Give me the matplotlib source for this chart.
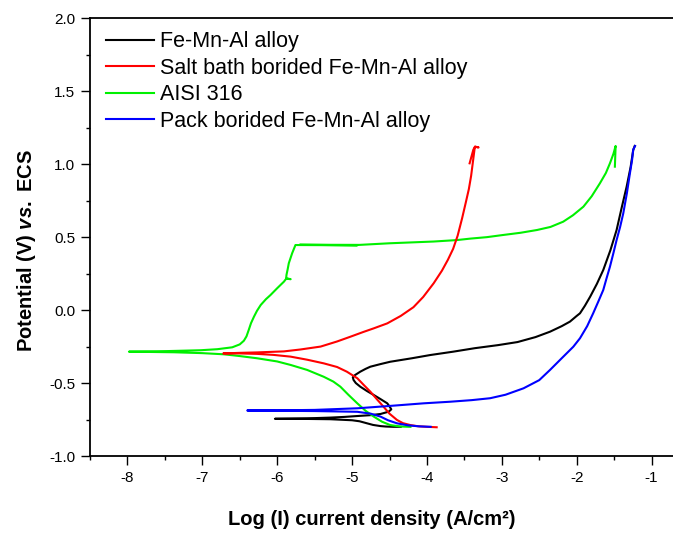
import matplotlib
matplotlib.use('Agg')
import matplotlib.pyplot as plt
from matplotlib.ticker import MultipleLocator, FormatStrFormatter

plt.rcParams['font.family'] = ['Liberation Sans', 'DejaVu Sans']
plt.rcParams['axes.unicode_minus'] = False
plt.rcParams['mathtext.fontset'] = 'custom'
plt.rcParams['mathtext.it'] = 'Liberation Sans:italic:bold'
plt.rcParams['mathtext.rm'] = 'Liberation Sans:bold'

# data: log current density (x) vs potential (y)
black_x = [-4.35, -4.45, -4.55, -4.62, -4.72, -4.80, -4.9, -5.0, -5.29, -5.6, -6.03,
           -5.6, -5.3, -5.1, -4.93, -4.75, -4.62, -4.51, -4.476, -4.5, -4.53, -4.62, -4.71, -4.8,
           -4.89, -4.95, -4.98, -4.99, -4.96, -4.89, -4.82, -4.756, -4.62, -4.49, -4.2, -3.956,
           -3.65, -3.36, -3.05, -2.79, -2.55, -2.356, -2.2, -2.09, -2.0, -1.956, -1.89, -1.82,
           -1.73, -1.645, -1.55, -1.467, -1.40, -1.333, -1.28, -1.245, -1.225]
black_y = [-0.80, -0.80, -0.798, -0.795, -0.787, -0.776, -0.762, -0.755, -0.748, -0.746, -0.745,
           -0.742, -0.737, -0.732, -0.726, -0.72, -0.712, -0.696, -0.68, -0.66, -0.639, -0.61,
           -0.582, -0.555, -0.525, -0.50, -0.479, -0.46, -0.445, -0.422, -0.403, -0.388, -0.37,
           -0.354, -0.33, -0.308, -0.285, -0.261, -0.24, -0.219, -0.185, -0.148, -0.11, -0.079,
           -0.04, -0.022, 0.03, 0.092, 0.18, 0.275, 0.41, 0.549, 0.70, 0.846, 0.98, 1.097, 1.125]

red_x = [-3.87, -4.0, -4.12, -4.22, -4.32, -4.4, -4.5, -4.58, -4.67, -4.756, -4.85, -4.93, -5.07,
         -5.2, -5.378, -5.6, -5.82, -6.05, -6.27, -6.5, -6.72,
         -6.5, -6.27, -5.91, -5.69, -5.42, -5.2, -5.02, -4.85, -4.71, -4.53, -4.35, -4.18, -4.05,
         -3.91, -3.80, -3.72, -3.65, -3.59, -3.53, -3.48, -3.44, -3.41, -3.385, -3.36, -3.31,
         -3.356, -3.38, -3.43]
red_y = [-0.803, -0.80, -0.796, -0.788, -0.775, -0.753, -0.71, -0.662, -0.61, -0.559, -0.51, -0.467,
         -0.422, -0.39, -0.365, -0.34, -0.319, -0.307, -0.30, -0.297, -0.297,
         -0.293, -0.29, -0.283, -0.27, -0.25, -0.215, -0.182, -0.15, -0.125, -0.091, -0.04, 0.02,
         0.09, 0.184, 0.27, 0.345, 0.42, 0.51, 0.63, 0.74, 0.83, 0.92, 1.02, 1.12, 1.115,
         1.12, 1.10, 1.006]

green_x = [-4.22, -4.35, -4.49, -4.6, -4.71, -4.82, -4.93, -5.05, -5.156, -5.25, -5.378, -5.6, -5.82,
           -6.0, -6.27, -6.5, -6.71, -7.0, -7.38, -7.98,
           -7.47, -7.02, -6.8, -6.6, -6.5, -6.445, -6.41, -6.38, -6.35, -6.31, -6.27, -6.22, -6.15,
           -6.09, -6.0, -5.91, -5.88, -5.82, -5.88, -5.876, -5.86, -5.845, -5.80, -5.756,
           -4.93, -5.70, -4.90, -4.5, -3.91, -3.6, -3.42, -3.2, -2.98, -2.75, -2.53, -2.35, -2.18,
           -2.05, -1.91, -1.8, -1.69, -1.61, -1.556, -1.51, -1.48, -1.49]
green_y = [-0.80, -0.798, -0.788, -0.765, -0.73, -0.69, -0.639, -0.58, -0.525, -0.49, -0.457, -0.41,
           -0.376, -0.352, -0.33, -0.315, -0.303, -0.295, -0.289, -0.285,
           -0.281, -0.275, -0.268, -0.255, -0.235, -0.21, -0.18, -0.136, -0.09, -0.045, -0.005,
           0.035, 0.075, 0.103, 0.15, 0.195, 0.215, 0.212, 0.218, 0.241, 0.28, 0.321, 0.39, 0.446,
           0.444, 0.448, 0.447, 0.458, 0.47, 0.48, 0.49, 0.50, 0.515, 0.53, 0.549, 0.57, 0.606,
           0.65, 0.709, 0.78, 0.869, 0.94, 1.006, 1.07, 1.125, 0.983]

blue_x = [-3.95, -4.1, -4.25, -4.4, -4.52, -4.62, -4.75, -4.93, -5.5, -6.0, -6.4,
          -6.0, -5.5, -4.93, -4.5, -4.045, -3.69, -3.4, -3.156, -2.95, -2.71, -2.5, -2.356, -2.2,
          -2.045, -1.956, -1.86, -1.78, -1.71, -1.645, -1.60, -1.556, -1.51, -1.467, -1.42, -1.378,
          -1.33, -1.289, -1.26, -1.245, -1.22]
blue_y = [-0.80, -0.797, -0.79, -0.776, -0.755, -0.73, -0.71, -0.697, -0.692, -0.690, -0.688,
          -0.687, -0.684, -0.673, -0.657, -0.639, -0.628, -0.617, -0.604, -0.58, -0.536, -0.48,
          -0.41, -0.33, -0.251, -0.193, -0.11, -0.022, 0.06, 0.138, 0.22, 0.297, 0.39, 0.48, 0.57,
          0.663, 0.80, 0.938, 1.03, 1.1, 1.125]

labels = ['Fe-Mn-Al alloy', 'Salt bath borided Fe-Mn-Al alloy', 'AISI 316', 'Pack borided Fe-Mn-Al alloy']

fig = plt.figure(figsize=(6.73, 5.33), dpi=100)
ax = fig.add_axes([90/673, 77/533, 599/673, 437.7/533])

lb, = ax.plot(black_x, black_y, color='black', lw=1.5)
lg, = ax.plot(green_x, green_y, color='#00f000', lw=1.5)
lr, = ax.plot(red_x, red_y, color='red', lw=1.5)
lbl, = ax.plot(blue_x, blue_y, color='blue', lw=1.5)

ax.set_xlim(-8.5, -0.5)
ax.set_ylim(-1.0, 2.0)
ax.xaxis.set_major_locator(MultipleLocator(1))
ax.xaxis.set_minor_locator(MultipleLocator(0.5))
ax.yaxis.set_major_locator(MultipleLocator(0.5))
ax.yaxis.set_minor_locator(MultipleLocator(0.25))
ax.yaxis.set_major_formatter(FormatStrFormatter('%.1f'))
ax.tick_params(which='major', length=6.5, width=1, labelsize=11, pad=4)
ax.tick_params(which='minor', length=3.2, width=1)
for s in ax.spines.values():
    s.set_linewidth(1.3)

ax.set_xlabel('Log (I) current density (A/cm²)', fontsize=14.5, fontweight='bold')
ax.xaxis.label.set_va('center')
ax.xaxis.set_label_coords(0.47, -0.146)
ax.set_ylabel(r'Potential (V) $\mathit{vs.}$ ECS', fontsize=14.5, fontweight='bold')
ax.yaxis.label.set_va('center')
ax.yaxis.set_label_coords(-0.106, 0.47)

ax.legend([lb, lr, lg, lbl], labels, loc='upper left', bbox_to_anchor=(0.027, 0.97),
          frameon=False, fontsize=15.5, handlelength=2.2, handletextpad=0.3,
          labelspacing=0.25, borderpad=0, borderaxespad=0)

fig.savefig('out.png', dpi=100)
